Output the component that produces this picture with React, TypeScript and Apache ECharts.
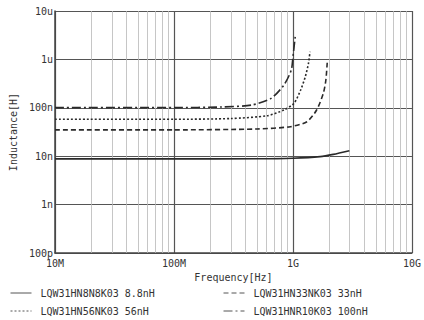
import React, { useEffect, useRef } from "react";
import * as echarts from "echarts";

const xTickLabels = ["10M", "100M", "1G", "10G"];
const yTickLabels = ["100p", "1n", "10n", "100n", "1u", "10u"];

const seriesNames = [
  "LQW31HN8N8K03 8.8nH",
  "LQW31HN56NK03 56nH",
  "LQW31HN33NK03 33nH",
  "LQW31HNR10K03 100nH",
];

// [frequency Hz, inductance H]
const l8n8: number[][] = [
  [1e7, 8.8e-9], [1e8, 8.8e-9], [5e8, 8.85e-9], [1e9, 9.1e-9], [1.69e9, 9.8e-9], [2.18e9, 10.9e-9], [2.98e9, 13e-9],
];
const l56n: number[][] = [
  [1e7, 58e-9], [1e8, 58e-9], [3e8, 60e-9], [6.1e8, 68.7e-9], [8.4e8, 90e-9], [1.02e9, 124e-9], [1.16e9, 233e-9], [1.27e9, 440e-9], [1.35e9, 830e-9], [1.39e9, 1.44e-6],
];
const l33n: number[][] = [
  [1e7, 35e-9], [1e8, 35e-9], [5e8, 36.5e-9], [9.5e8, 40.7e-9], [1.31e9, 51.6e-9], [1.58e9, 90e-9], [1.8e9, 200e-9], [1.89e9, 375e-9], [1.94e9, 855e-9],
];
const l100n: number[][] = [
  [1e7, 101e-9], [1e8, 101e-9], [2.5e8, 104e-9], [4.5e8, 114e-9], [6.55e8, 157e-9], [8.4e8, 296e-9], [9.68e8, 604e-9], [1.0e9, 1.14e-6], [1.05e9, 3.3e-6],
];

const xMinor: number[] = [];
for (const e of [7, 8, 9]) for (let k = 2; k <= 9; k++) xMinor.push(k * Math.pow(10, e));
const yMinor: number[] = [];
for (const e of [-10, -9, -8, -7, -6]) for (let k = 2; k <= 9; k++) yMinor.push(k * Math.pow(10, e));

const FONT = "'DejaVu Sans Mono', monospace";

export default function App() {
  const ref = useRef<HTMLDivElement>(null);
  useEffect(() => {
    const chart = echarts.init(ref.current!, undefined, { renderer: "svg" });
    const lineColor = "#2a2a2a";
    const mk = (name: string, data: number[][], type: any) => ({
      name,
      type: "line",
      data,
      smooth: 0.25,
      showSymbol: false,
      symbol: "none",
      z: 5,
      lineStyle: { color: lineColor, width: 1.6, type },
      itemStyle: { color: lineColor },
    });
    const lg = (name: string, left: number, top: number) => ({
      data: [name],
      orient: "horizontal",
      left,
      top,
      padding: 0,
      itemWidth: 21,
      itemHeight: 10,
      itemStyle: { opacity: 0 },
      lineStyle: { width: 1, color: "#555" },
      textStyle: { fontFamily: FONT, fontSize: 10, color: "#333", padding: [0, 0, 0, 4] },
    });
    chart.setOption({
      animation: false,
      backgroundColor: "#fff",
      grid: { left: 49, right: 10, top: 11, bottom: 67, containLabel: false },
      xAxis: {
        type: "log",
        logBase: 10,
        min: 1e7,
        max: 1e10,
        name: "Frequency[Hz]",
        nameLocation: "middle",
        nameGap: 19,
        nameTextStyle: { fontFamily: FONT, fontSize: 10, color: "#333" },
        axisLine: { show: true, lineStyle: { color: "#444", width: 1.5 } },
        axisTick: { show: false },
        axisLabel: {
          fontFamily: FONT,
          fontSize: 10,
          color: "#333",
          margin: 5,
          formatter: (v: number) => xTickLabels[Math.round(Math.log10(v)) - 7] ?? "",
        },
        splitLine: { show: true, lineStyle: { color: "#555", width: 1.2 } },
      },
      yAxis: {
        type: "log",
        logBase: 10,
        min: 1e-10,
        max: 1e-5,
        name: "Inductance[H]",
        nameLocation: "middle",
        nameGap: 36,
        nameRotate: 90,
        nameTextStyle: { fontFamily: FONT, fontSize: 10, color: "#333" },
        axisLine: { show: true, lineStyle: { color: "#444", width: 1.5 } },
        axisTick: { show: false },
        axisLabel: {
          fontFamily: FONT,
          fontSize: 10,
          color: "#333",
          margin: 2,
          formatter: (v: number) => yTickLabels[Math.round(Math.log10(v)) + 10] ?? "",
        },
        splitLine: { show: true, lineStyle: { color: "#555", width: 1.2 } },
      },
      legend: [
        lg(seriesNames[0], 10, 288),
        lg(seriesNames[1], 10, 306),
        lg(seriesNames[2], 223, 288),
        lg(seriesNames[3], 223, 306),
      ],
      series: [
        {
          type: "line",
          data: [],
          silent: true,
          z: 1,
          markLine: {
            silent: true,
            symbol: ["none", "none"],
            label: { show: false },
            lineStyle: { color: "#b8b8b8", width: 0.8, type: "solid" },
            data: [
              ...xMinor.map((v) => ({ xAxis: v })),
              ...yMinor.map((v) => ({ yAxis: v })),
            ],
          },
        },
        mk(seriesNames[0], l8n8, "solid"),
        mk(seriesNames[1], l56n, [2, 2]),
        mk(seriesNames[2], l33n, [5, 3]),
        mk(seriesNames[3], l100n, [9, 3, 2, 3]),
      ],
    });
    return () => chart.dispose();
  }, []);
  return <div ref={ref} style={{ width: 424, height: 320, position: "absolute", left: 0, top: 0 }} />;
}
